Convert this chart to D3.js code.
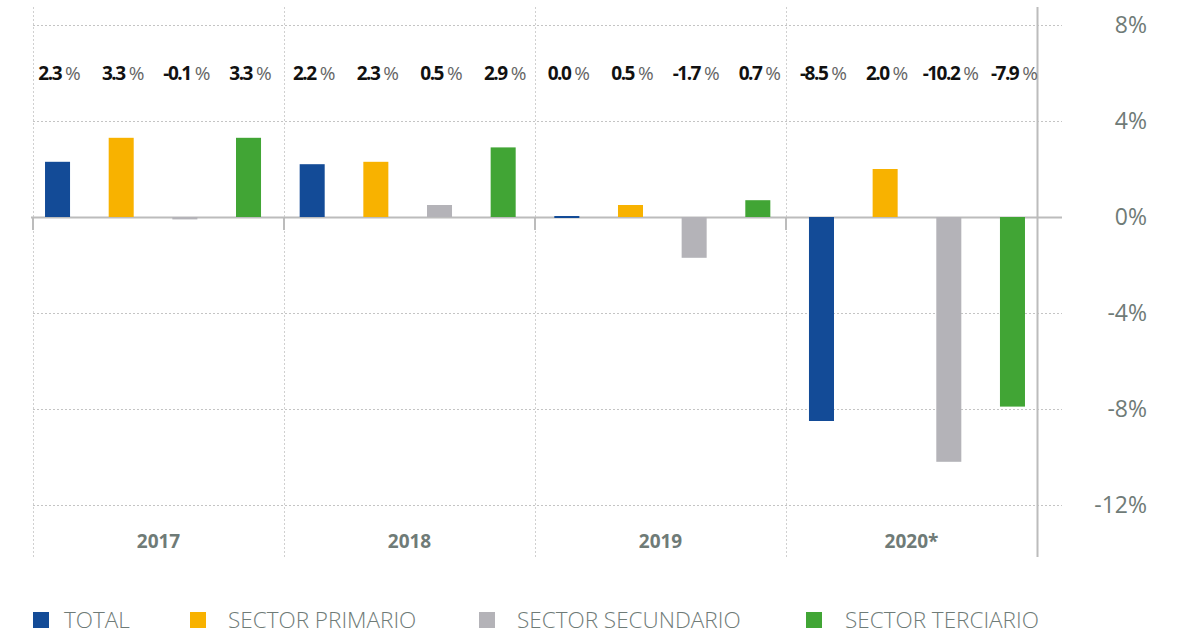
<!doctype html>
<html>
<head>
<meta charset="utf-8">
<title>Crecimiento por sector</title>
<script src="https://cdn.jsdelivr.net/npm/d3@7"></script>
<style>
    html, body { margin: 0; padding: 0; background: #fff; }
    svg { display: block; font-family: "Open Sans", sans-serif; }
</style>
</head>
<body>
<svg id="chart" width="1177" height="635"></svg>
<script>
var years = ['2017', '2018', '2019', '2020*'];
var series = ['TOTAL', 'SECTOR PRIMARIO', 'SECTOR SECUNDARIO', 'SECTOR TERCIARIO'];
var colors = ['#134b97', '#f8b200', '#b4b3b8', '#41a535'];
var total = [2.3, 2.2, 0.0, -8.5];
var primario = [3.3, 2.3, 0.5, 2.0];
var secundario = [-0.1, 0.5, -1.7, -10.2];
var terciario = [3.3, 2.9, 0.7, -7.9];
var yTicks = [8, 4, 0, -4, -8, -12];

var values = [total, primario, secundario, terciario];
var svg = d3.select('#chart');

var y = d3.scaleLinear().domain([-12, 8]).range([505, 25]);
// group dividers and year labels
var xg = d3.scaleBand().domain(years).range([33, 1037]);
// bars sit on a slightly wider band
var x0 = d3.scaleBand().domain(years).range([25.7, 1044.3]);
var x1 = d3.scaleBand().domain(series).range([0, x0.bandwidth()])
    .paddingInner(0.607).paddingOuter(0.3035);
var color = d3.scaleOrdinal().domain(series).range(colors);

// horizontal dotted grid
svg.append('g').selectAll('line')
    .data(yTicks.filter(function(d) { return d !== 0; }))
    .join('line')
    .attr('x1', 33).attr('x2', 1062)
    .attr('y1', function(d) { return y(d) + 0.5; })
    .attr('y2', function(d) { return y(d) + 0.5; })
    .attr('stroke', '#c4c4c4').attr('stroke-width', 1)
    .attr('stroke-dasharray', '2,2');

// vertical dotted dividers
svg.append('g').selectAll('line')
    .data(years)
    .join('line')
    .attr('x1', function(d) { return xg(d) + 0.5; })
    .attr('x2', function(d) { return xg(d) + 0.5; })
    .attr('y1', 7).attr('y2', 557)
    .attr('stroke', '#d0d0d0').attr('stroke-width', 1)
    .attr('stroke-dasharray', '2,2');

// zero line
svg.append('line')
    .attr('x1', 31).attr('x2', 1062)
    .attr('y1', y(0) + 0.5).attr('y2', y(0) + 0.5)
    .attr('stroke', '#bcbcbc').attr('stroke-width', 2);

// divider ticks under zero line
svg.append('g').selectAll('line')
    .data(years)
    .join('line')
    .attr('x1', function(d) { return xg(d); })
    .attr('x2', function(d) { return xg(d); })
    .attr('y1', y(0)).attr('y2', y(0) + 13)
    .attr('stroke', '#bcbcbc').attr('stroke-width', 2);

// bars
var flat = [];
years.forEach(function(yr, i) {
    series.forEach(function(s, j) {
        flat.push({year: yr, key: s, value: values[j][i]});
    });
});

svg.append('g').selectAll('rect')
    .data(flat)
    .join('rect')
    .attr('x', function(d) { return x0(d.year) + x1(d.key); })
    .attr('width', x1.bandwidth())
    .attr('y', function(d) { return d.value > 0 ? y(d.value) : (d.value === 0 ? y(0) - 1 : y(0)); })
    .attr('height', function(d) { return Math.max(Math.abs(y(d.value) - y(0)), d.value === 0 ? 2 : 0); })
    .attr('fill', function(d) { return color(d.key); });

// right vertical axis line
svg.append('line')
    .attr('x1', 1037.5).attr('x2', 1037.5)
    .attr('y1', 7).attr('y2', 557)
    .attr('stroke', '#bcbcbc').attr('stroke-width', 2);

// y labels
svg.append('g').selectAll('text')
    .data(yTicks)
    .join('text')
    .attr('x', 1147)
    .attr('y', function(d) { return y(d) + 8; })
    .attr('text-anchor', 'end')
    .attr('font-size', 23)
    .attr('fill', '#6f7b77')
    .text(function(d) { return d + '%'; });

// year labels
svg.append('g').selectAll('text')
    .data(years)
    .join('text')
    .attr('x', function(d) { return xg(d) + xg.bandwidth() / 2; })
    .attr('y', 548)
    .attr('text-anchor', 'middle')
    .attr('font-size', 19)
    .attr('font-weight', 700)
    .attr('fill', '#6f7b77')
    .text(function(d) { return d; });

// value labels on top
var lab = svg.append('g').selectAll('text')
    .data(flat)
    .join('text')
    .attr('x', function(d) { return x0(d.year) + x1(d.key) + x1.bandwidth() / 2 + 2; })
    .attr('y', 80)
    .attr('text-anchor', 'middle')
    .attr('font-size', 19);
lab.append('tspan')
    .attr('font-weight', 700)
    .attr('fill', '#111')
    .attr('letter-spacing', -1.5)
    .text(function(d) { return d.value.toFixed(1); });
lab.append('tspan')
    .attr('fill', '#666')
    .attr('font-weight', 400)
    .attr('dx', 4)
    .text('%');

// legend
var legX = [33, 190, 479, 806];
var legTextX = [31, 38, 38, 39];
var leg = svg.append('g').selectAll('g')
    .data(series)
    .join('g')
    .attr('transform', function(d, i) { return 'translate(' + legX[i] + ',612)'; });
leg.append('rect')
    .attr('width', 16).attr('height', 16)
    .attr('fill', function(d) { return color(d); });
leg.append('text')
    .attr('x', function(d, i) { return legTextX[i]; })
    .attr('y', 16)
    .attr('font-size', 22.5)
    .attr('font-weight', 300)
    .attr('fill', '#6f7b77')
    .text(function(d) { return d; });
</script>
</body>
</html>
